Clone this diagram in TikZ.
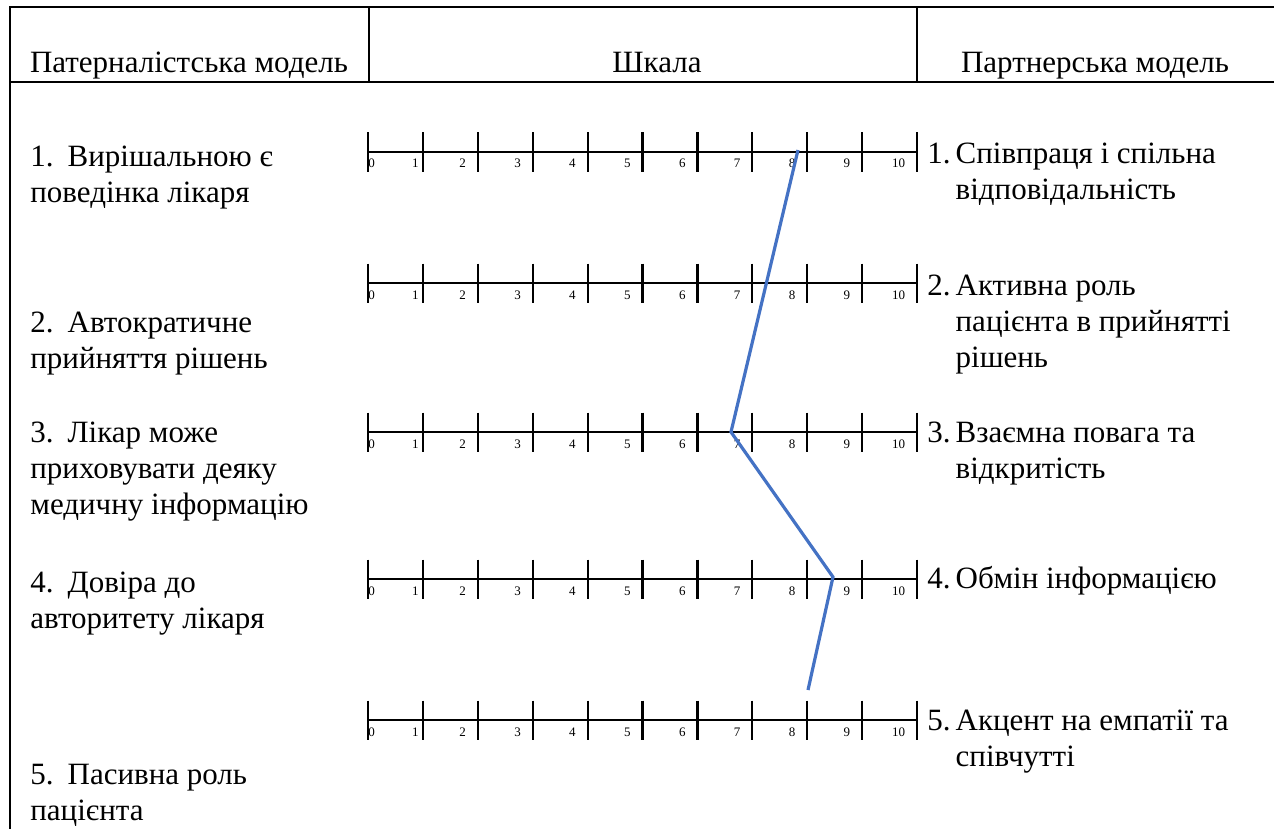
\documentclass[tikz,border=0pt]{standalone}
\usepackage{fontspec}
\setmainfont{LiberationSerif}[Extension=.ttf, UprightFont=*-Regular]
\usetikzlibrary{calc}
\definecolor{trendblue}{HTML}{4472C4}

\begin{document}
\begin{tikzpicture}
[
    x=0.5pt, y=-0.5pt,
    rule/.style={line width=1.1pt},
    head/.style={anchor=base, inner sep=0pt, font=\fontsize{15.5}{18}\selectfont},
    leftitem/.style={anchor=base west, inner sep=0pt, font=\fontsize{15.5}{18}\selectfont},
    rightitem/.style={anchor=base west, inner sep=0pt, font=\fontsize{15.5}{18}\selectfont},
    scalenum/.style={anchor=base east, inner sep=0pt, font=\fontsize{6.5}{7}\selectfont},
    trend/.style={line width=1.6pt, color=trendblue},
]
\useasboundingbox (0,0) rectangle (1274,829);

\draw[rule] (10,829) -- (10,7) -- (1274,7);
\draw[rule] (10,82) -- (1274,82);
\draw[rule] (369,7) -- (369,82);
\draw[rule] (917,7) -- (917,82);

\node(hpat) at (189,73) [head]{Патерналістська модель};
\node(hscale) at (657,73) [head]{Шкала};
\node(hpart) at (1095,73) [head]{Партнерська модель};

\node(pat1) at (30,166) [leftitem]{\begin{tabular}[t]{@{}l@{}}1.\hspace{7pt}Вирішальною є\\поведінка лікаря\end{tabular}};
\node(pat2) at (30,332) [leftitem]{\begin{tabular}[t]{@{}l@{}}2.\hspace{7pt}Автократичне\\прийняття рішень\end{tabular}};
\node(pat3) at (30,442) [leftitem]{\begin{tabular}[t]{@{}l@{}}3.\hspace{7pt}Лікар може\\приховувати деяку\\медичну інформацію\end{tabular}};
\node(pat4) at (30,592) [leftitem]{\begin{tabular}[t]{@{}l@{}}4.\hspace{7pt}Довіра до\\авторитету лікаря\end{tabular}};
\node(pat5) at (30,784) [leftitem]{\begin{tabular}[t]{@{}l@{}}5.\hspace{7pt}Пасивна роль\\пацієнта\end{tabular}};

\node(part1) at (927,163) [rightitem]{\begin{tabular}[t]{@{}l@{\hspace{2.5pt}}l@{}}1.&Співпраця і спільна\\&відповідальність\end{tabular}};
\node(part2) at (927,295) [rightitem]{\begin{tabular}[t]{@{}l@{\hspace{2.5pt}}l@{}}2.&Активна роль\\&пацієнта в прийнятті\\&рішень\end{tabular}};
\node(part3) at (927,442) [rightitem]{\begin{tabular}[t]{@{}l@{\hspace{2.5pt}}l@{}}3.&Взаємна повага та\\&відкритість\end{tabular}};
\node(part4) at (927,588) [rightitem]{\begin{tabular}[t]{@{}l@{\hspace{2.5pt}}l@{}}4.&Обмін інформацією\end{tabular}};
\node(part5) at (927,730) [rightitem]{\begin{tabular}[t]{@{}l@{\hspace{2.5pt}}l@{}}5.&Акцент на емпатії та\\&співчутті\end{tabular}};

\foreach \r/\y in {1/152,2/283,3/432,4/579,5/720}
{
    \coordinate (s\r) at (368,\y);
    \draw[rule] (s\r) -- ++(549,0);
    \foreach \i in {0,...,10}
        \draw[rule] ($(s\r)+(\i*54.9,-19.5)$) -- ++(0,39);
    \node[scalenum, anchor=base west] at ($(s\r)+(0,16)$) {0};
    \foreach \i/\dx in {1/4,2/11.5,3/11.5,4/11.5,5/11.5,6/11.5,7/11.5,8/11.5,9/11.5,10/11.5}
        \node[scalenum] at ($(s\r)+(\i*54.9-\dx,16)$) {\i};
}

\coordinate (v1) at (798,150);
\coordinate (v3) at (731,432);
\coordinate (v4) at (833,577);
\coordinate (vend) at (808,690);
\draw[trend] (v1) -- (v3) -- (v4) -- (vend);

\end{tikzpicture}
\end{document}
